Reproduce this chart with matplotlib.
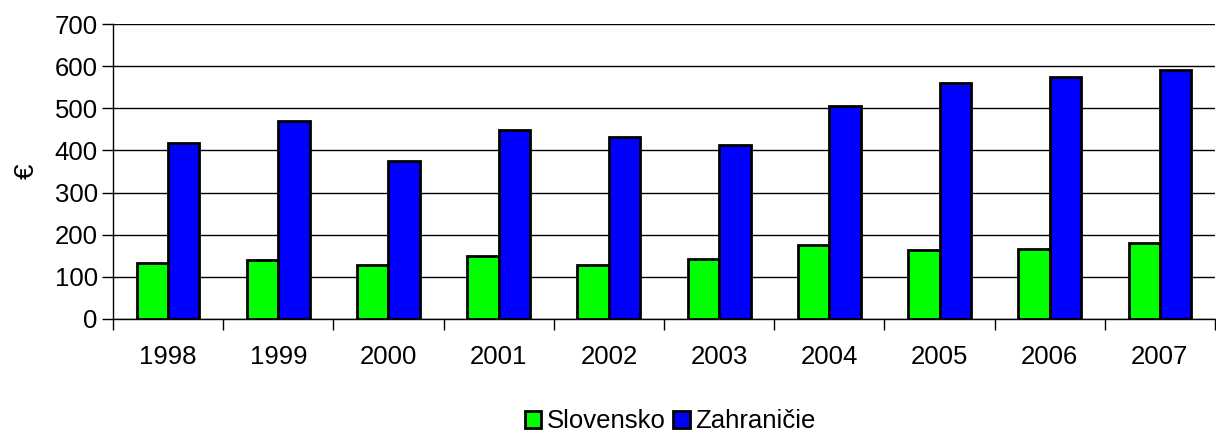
import numpy as np
import matplotlib.pyplot as plt

plt.rcParams['font.family'] = ['Liberation Sans', 'DejaVu Sans']

# Data
years = ['1998', '1999', '2000', '2001', '2002', '2003', '2004', '2005', '2006', '2007']
slovensko = [134, 141, 129, 149, 127, 142, 175, 163, 165, 180]
zahranicie = [418, 471, 375, 448, 431, 413, 505, 560, 574, 590]

fig = plt.figure(figsize=(12.16, 4.32), dpi=100)
ax = fig.add_axes([0.0929, 0.2616, 0.9063, 0.6828])

x = np.arange(len(years))
w = 0.285
ax.bar(x - w / 2, slovensko, w, color='#00ff00', edgecolor='black', linewidth=2,
       label='Slovensko', zorder=3)
ax.bar(x + w / 2, zahranicie, w, color='#0000ff', edgecolor='black', linewidth=2,
       label='Zahraničie', zorder=3)

ax.set_xlim(-0.5, len(years) - 0.5)
ax.set_ylim(0, 700)
ax.set_yticks(range(0, 701, 100))
ax.yaxis.grid(True, color='black', linewidth=1)
ax.set_axisbelow(True)

# category ticks sit between groups, labels at centers
ax.set_xticks(np.arange(len(years) + 1) - 0.5)
ax.set_xticklabels([])
ax.set_xticks(x, minor=True)
ax.set_xticklabels(years, minor=True)
ax.tick_params(axis='x', which='minor', length=0, pad=19, labelsize=18.5)
ax.tick_params(axis='x', which='major', length=8, width=1, direction='out')
ax.tick_params(axis='y', length=8, width=1, labelsize=18.5, pad=3)

for s in ['top', 'right']:
    ax.spines[s].set_visible(False)
ax.spines['left'].set_linewidth(1)
ax.spines['bottom'].set_linewidth(1)

ax.set_ylabel('€', fontsize=20, labelpad=11)

fig.legend(loc='center', bbox_to_anchor=(0.551, 0.025), ncol=2, frameon=False,
           fontsize=18.5, handlelength=0.65, handleheight=0.65, handletextpad=0.2,
           columnspacing=0.3, borderaxespad=0)

fig.savefig('out.png', dpi=100)
